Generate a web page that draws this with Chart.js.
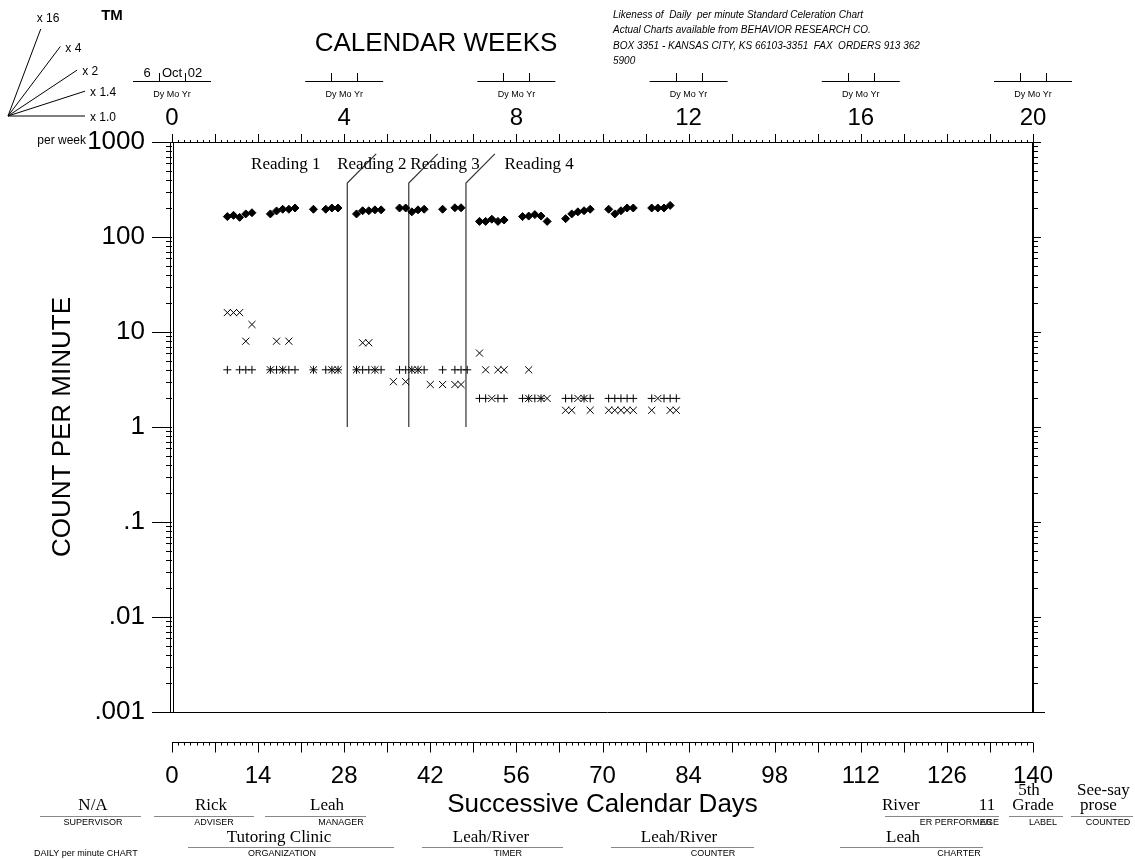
<!DOCTYPE html>
<html>
<head>
<meta charset="utf-8">
<title>Daily per minute chart</title>
<script src="https://cdn.jsdelivr.net/npm/chart.js@4.4.1/dist/chart.umd.min.js"></script>
<style>
  html, body { margin: 0; padding: 0; background: #fff; }
</style>
</head>
<body>
<canvas id="scc" width="1135" height="859"></canvas>
<script>
// correct per minute (dots)
const corDays = [9,10,11,12,13, 16,17,18,19,20, 23,25,26,27, 30,31,32,33,34, 37,38,39,40,41, 44,46,47,
                 50,51,52,53,54, 57,58,59,60,61, 64,65,66,67,68, 71,72,73,74,75, 78,79,80,81];
const corVals = [164,169,161,175,180, 175,188,196,196,202, 196,196,202,202, 175,189,189,193,193, 202,202,184,193,196, 196,203,203,
                 146,146,154,146,151, 164,166,172,166,146, 156,175,184,189,196, 196,175,189,202,202, 202,202,202,215];
// errors per minute (x)
const errDays = [9,10,11,12,13, 16,17,18,19, 23,26,27, 30,31,32,33, 36,38,39,40, 42,44,46,47,
                 50,51,52,53,54, 58,58,60,61, 64,65,66,67,68, 71,72,73,74,75, 78,79,81,82];
const errVals = [16,16,16,8,12, 4,8,4,8, 4,4,4, 4,7.7,7.7,4, 3,3,4,4, 2.8,2.8,2.8,2.8,
                 6,4,2,4,4, 4,2,2,2, 1.5,1.5,2,2,1.5, 1.5,1.5,1.5,1.5,1.5, 1.5,2,1.5,1.5];
// record floor (+)
const floorDays = [9,11,12,13, 16,17,18,19,20, 23,25,26,27, 30,31,32,33,34, 37,38,39,40,41, 44,46,47,48,
                   50,51,53,54, 57,58,59,60, 64,65,67,68, 71,72,73,74,75, 78,80,81,82];
const floorVals = [4,4,4,4, 4,4,4,4,4, 4,4,4,4, 4,4,4,4,4, 4,4,4,4,4, 4,4,4,4,
                   2,2,2,2, 2,2,2,2, 2,2,2,2, 2,2,2,2,2, 2,2,2,2];
// phase change lines and their labels
const phaseDays = [28.5, 38.5, 47.8];
const phaseBottom = 1, phaseTop = 370;
const phaseLabels = ['Reading 1', 'Reading 2', 'Reading 3', 'Reading 4'];
const phaseLabelDays = [18.5, 32.5, 44.4, 59.7];
const phaseLabelLevel = 573;
// axes
const yTicks = [0.001, 0.01, 0.1, 1, 10, 100, 1000];
const yTickLabels = ['.001', '.01', '.1', '1', '10', '100', '1000'];
const dayTicks = [0, 14, 28, 42, 56, 70, 84, 98, 112, 126, 140];
const weekTicks = [0, 4, 8, 12, 16, 20];
const fanMults = [16, 4, 2, 1.4, 1.0];
const fanLabels = ['x 16', 'x 4', 'x 2', 'x 1.4', 'x 1.0'];

const SANS = '"Liberation Sans", Arial, Helvetica, sans-serif';
const SERIF = '"Liberation Serif", "Times New Roman", serif';

function pts(xs, ys) { return xs.map((d, i) => ({ x: d, y: ys[i] })); }

function txt(ctx, s, x, y, font, align) {
  ctx.font = font;
  ctx.textAlign = align || 'center';
  ctx.textBaseline = 'middle';
  ctx.fillText(s, x, y);
}
function seg(ctx, x1, y1, x2, y2) {
  ctx.beginPath(); ctx.moveTo(x1, y1); ctx.lineTo(x2, y2); ctx.stroke();
}

const frame = {
  id: 'frame',
  afterDraw(chart) {
    const { ctx, chartArea: a, scales } = chart;
    const x = scales.x, y = scales.y, wk = scales.wk;
    ctx.save();
    ctx.strokeStyle = '#000';
    ctx.fillStyle = '#000';
    ctx.lineWidth = 1;

    // frame
    seg(ctx, a.left - 1.5, a.top, a.left - 1.5, a.bottom);
    seg(ctx, a.left + 1.5, a.top, a.left + 1.5, a.bottom);
    ctx.lineWidth = 2;
    seg(ctx, a.right, a.top, a.right, a.bottom);
    ctx.lineWidth = 1;
    seg(ctx, a.left - 2, a.bottom + 0.5, a.right + 12, a.bottom + 0.5);
    seg(ctx, a.left, a.top + 0.5, a.right, a.top + 0.5);

    // y ticks, both sides
    for (let k = -3; k <= 3; k++) {
      for (let m = 1; m <= 9; m++) {
        const v = m * Math.pow(10, k);
        if (v > 1000 + 1e-9) break;
        const py = Math.round(y.getPixelForValue(v)) + 0.5;
        if (m === 1) {
          seg(ctx, a.left - 20, py, a.left, py);
          seg(ctx, a.right, py, a.right + 8, py);
        } else {
          seg(ctx, a.left - 6, py, a.left, py);
          seg(ctx, a.right, py, a.right + 5, py);
        }
      }
    }

    // top ticks (days) and bottom day ruler
    const rulerY = a.bottom + 30.5;
    seg(ctx, a.left, rulerY, a.right, rulerY);
    for (let d = 0; d <= 140; d++) {
      const px = Math.round(x.getPixelForValue(d)) + 0.5;
      const major = d % 7 === 0;
      seg(ctx, px, a.top, px, a.top - (major ? 8 : 2));
      seg(ctx, px, rulerY, px, rulerY + (major ? 10 : 3));
    }

    // date boxes above the week numbers
    weekTicks.forEach((w, i) => {
      const cx = wk.getPixelForValue(w);
      seg(ctx, cx - 39, 81.5, cx + 39, 81.5);
      seg(ctx, Math.round(cx - 13) + 0.5, 73, Math.round(cx - 13) + 0.5, 82);
      seg(ctx, Math.round(cx + 13) + 0.5, 73, Math.round(cx + 13) + 0.5, 82);
      txt(ctx, 'Dy Mo Yr', cx, 95, '9px ' + SANS);
      if (i === 0) {
        txt(ctx, '6', cx - 25, 73, '13px ' + SANS);
        txt(ctx, 'Oct', cx, 73, '13px ' + SANS);
        txt(ctx, '02', cx + 23, 73, '13px ' + SANS);
      }
    });

    txt(ctx, 'CALENDAR WEEKS', 436, 44, '26px ' + SANS);
    ctx.font = 'italic 10px ' + SANS;
    ctx.textAlign = 'left';
    ctx.textBaseline = 'middle';
    ctx.fillText('Likeness of  Daily  per minute Standard Celeration Chart', 613, 15);
    ctx.fillText('Actual Charts available from BEHAVIOR RESEARCH CO.', 613, 30);
    ctx.fillText('BOX 3351 - KANSAS CITY, KS 66103-3351  FAX  ORDERS 913 362', 613, 46);
    ctx.fillText('5900', 613, 61);

    // celeration fan
    const pxDec = y.getPixelForValue(1) - y.getPixelForValue(10);
    const pxWeek = wk.getPixelForValue(1) - wk.getPixelForValue(0);
    const fanLen = [93, 87, 83, 81, 77];
    const ox = 8, oy = 116;
    fanMults.forEach((m, i) => {
      const ang = Math.atan(Math.log10(m) * pxDec / pxWeek);
      const ex = ox + fanLen[i] * Math.cos(ang);
      const ey = oy - fanLen[i] * Math.sin(ang);
      seg(ctx, ox, oy, ex, ey);
      if (i === 0) txt(ctx, fanLabels[i], ex - 4, ey - 10, '12px ' + SANS, 'left');
      else txt(ctx, fanLabels[i], ex + 5, ey + 2, '12px ' + SANS, 'left');
    });
    txt(ctx, 'TM', 112, 16, 'bold 15px ' + SANS);
    txt(ctx, 'per week', 86, 141, '12px ' + SANS, 'right');

    // phase labels
    phaseLabels.forEach((s, i) => {
      txt(ctx, s, x.getPixelForValue(phaseLabelDays[i]), y.getPixelForValue(phaseLabelLevel), '17px ' + SERIF);
    });

    // info block at the bottom
    const V = '17px ' + SERIF, L = '9px ' + SANS;
    ctx.strokeStyle = '#888';
    const field = (val, vx, lab, lx, l1, l2, row) => {
      const yv = row ? 838 : 806, yl = row ? 847.5 : 816.5, yb = row ? 854 : 823;
      if (val) txt(ctx, val, vx, yv, V);
      seg(ctx, l1, yl, l2, yl);
      txt(ctx, lab, lx, yb, L);
    };
    field('N/A', 93, 'SUPERVISOR', 93, 40, 141, 0);
    field('Rick', 211, 'ADVISER', 214, 154, 254, 0);
    field('Leah', 327, 'MANAGER', 341, 265, 366, 0);
    field('Tutoring Clinic', 279, 'ORGANIZATION', 282, 188, 394, 1);
    field('Leah/River', 491, 'TIMER', 508, 422, 563, 1);
    field('Leah/River', 679, 'COUNTER', 713, 611, 754, 1);
    field('Leah', 903, 'CHARTER', 959, 840, 983, 1);
    field('', 0, 'ER PERFORMER', 956, 885, 999, 0);
    txt(ctx, 'AGE', 999, 823, L, 'right');
    txt(ctx, 'River', 882, 806, V, 'left');
    txt(ctx, '11', 987, 806, V);
    field('Grade', 1033, 'LABEL', 1043, 1009, 1063, 0);
    txt(ctx, '5th', 1029, 791, V);
    field('', 0, 'COUNTED', 1108, 1071, 1133, 0);
    txt(ctx, 'See-say', 1077, 791, V, 'left');
    txt(ctx, 'prose', 1080, 806, V, 'left');
    txt(ctx, 'DAILY per minute CHART', 34, 854, L, 'left');
    ctx.restore();
  }
};

const phaseSets = phaseDays.map(d => ({
  type: 'line',
  data: [{ x: d, y: phaseBottom }, { x: d, y: phaseTop }, { x: d + 4.7, y: phaseTop * 2.03 }],
  xAxisID: 'x', yAxisID: 'y',
  showLine: true, pointRadius: 0, borderColor: '#333', borderWidth: 1.2, fill: false, tension: 0
}));

new Chart(document.getElementById('scc'), {
  type: 'scatter',
  data: {
    datasets: [
      { label: 'Correct', data: pts(corDays, corVals), xAxisID: 'x', yAxisID: 'y',
        pointStyle: 'rectRot', pointRadius: 4, backgroundColor: '#000', borderColor: '#000', borderWidth: 1 },
      { label: 'Errors', data: pts(errDays, errVals), xAxisID: 'x', yAxisID: 'y',
        pointStyle: 'crossRot', pointRadius: 5, borderColor: '#000', borderWidth: 1 },
      { label: 'Record floor', data: pts(floorDays, floorVals), xAxisID: 'x', yAxisID: 'y',
        pointStyle: 'cross', pointRadius: 4, borderColor: '#000', borderWidth: 1 },
      ...phaseSets
    ]
  },
  options: {
    responsive: false,
    animation: false,
    devicePixelRatio: 1,
    layout: { padding: { right: 102 } },
    plugins: { legend: { display: false }, tooltip: { enabled: false } },
    scales: {
      x: {
        type: 'linear', position: 'bottom', min: 0, max: 140,
        afterFit(s) { s.height = 147; },
        afterBuildTicks(s) { s.ticks = dayTicks.map(v => ({ value: v })); },
        grid: { display: false }, border: { display: false },
        ticks: { padding: 42, color: '#000', font: { family: SANS, size: 24 }, maxRotation: 0, autoSkip: false },
        title: { display: true, text: 'Successive Calendar Days', color: '#000',
                 font: { family: SANS, size: 26 }, padding: { top: 0, bottom: 39 } }
      },
      wk: {
        type: 'linear', position: 'top', min: 0, max: 20,
        afterFit(s) { s.height = 142; },
        afterBuildTicks(s) { s.ticks = weekTicks.map(v => ({ value: v })); },
        grid: { display: false }, border: { display: false },
        ticks: { padding: 1, color: '#000', font: { family: SANS, size: 24 }, maxRotation: 0, autoSkip: false }
      },
      y: {
        type: 'logarithmic', position: 'left', min: 0.001, max: 1000,
        afterFit(s) { s.width = 172; },
        afterBuildTicks(s) { s.ticks = yTicks.map(v => ({ value: v })); },
        grid: { display: false }, border: { display: false },
        ticks: { padding: 19, color: '#000', font: { family: SANS, size: 26 },
                 callback: (v, i) => yTickLabels[i] },
        title: { display: true, text: 'COUNT PER MINUTE', color: '#000',
                 font: { family: SANS, size: 26 }, padding: { top: 47, bottom: 0 } }
      }
    }
  },
  plugins: [frame]
});
</script>
</body>
</html>
